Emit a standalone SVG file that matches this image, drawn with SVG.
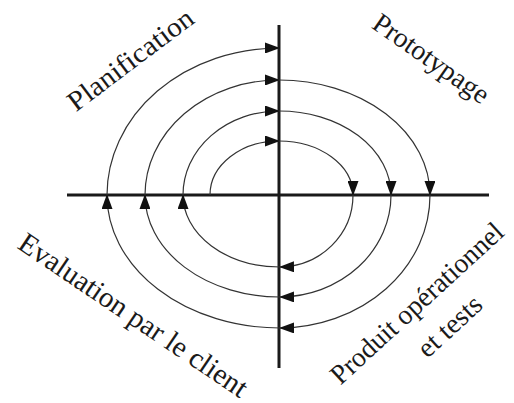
<svg xmlns="http://www.w3.org/2000/svg" width="514" height="403" viewBox="0 0 514 403">
<style>
.axis{stroke:#1a1a1a;stroke-width:3;fill:none}
.arc{stroke:#333;stroke-width:1.2;fill:none;marker-end:url(#ah)}
.lbl{font-family:"Liberation Serif","Times New Roman",serif;font-size:28px;fill:#1a1a1a;text-anchor:middle}
</style>
<defs>
<marker id="ah" viewBox="0 0 15 11" refX="14" refY="5.5" markerUnits="userSpaceOnUse" markerWidth="15" markerHeight="11" orient="auto">
<path d="M0,0 L15,5.5 L0,11 Z" fill="#111"/>
</marker>
</defs>
<rect width="514" height="403" fill="#fff"/>
<g id="axes">
<line class="axis" x1="279" y1="25" x2="279" y2="368"/>
<line class="axis" x1="67" y1="195" x2="489" y2="195"/>
</g>
<g id="connectors">
<path class="arc" d="M210,195 A69,54 0 0 1 279,141"/>
<path class="arc" d="M279,141 A74,54 0 0 1 353,195"/>
<path class="arc" d="M353,195 A74,72 0 0 1 280,267"/>
<path class="arc" d="M280,267 A97,72 0 0 1 183,195"/>
<path class="arc" d="M183,195 A96,84 0 0 1 279,111"/>
<path class="arc" d="M279,111 A112,84 0 0 1 391,195"/>
<path class="arc" d="M391,195 A112,102 0 0 1 280,297"/>
<path class="arc" d="M280,297 A135,102 0 0 1 145,195"/>
<path class="arc" d="M145,195 A134,115 0 0 1 279,80"/>
<path class="arc" d="M279,80 A151,115 0 0 1 430,195"/>
<path class="arc" d="M430,195 A151,133 0 0 1 280,328"/>
<path class="arc" d="M280,328 A173,133 0 0 1 107,195"/>
<path class="arc" d="M107,195 A172,147 0 0 1 279,48"/>
</g>
<g id="planification">
<text class="lbl" textLength="150" lengthAdjust="spacingAndGlyphs" transform="translate(136,67) rotate(-37)">Planification</text>
</g>
<g id="prototypage">
<text class="lbl" transform="translate(426,66) rotate(35)">Prototypage</text>
</g>
<g id="evaluation">
<text class="lbl" style="font-size:29px" transform="translate(128,323) rotate(34)">Evaluation par le client</text>
</g>
<g id="produit">
<text class="lbl" textLength="224" lengthAdjust="spacingAndGlyphs" transform="translate(423,310) rotate(-42.5)">Produit opérationnel</text>
<text class="lbl" transform="translate(456,333) rotate(-42.5)">et tests</text>
</g>
</svg>
